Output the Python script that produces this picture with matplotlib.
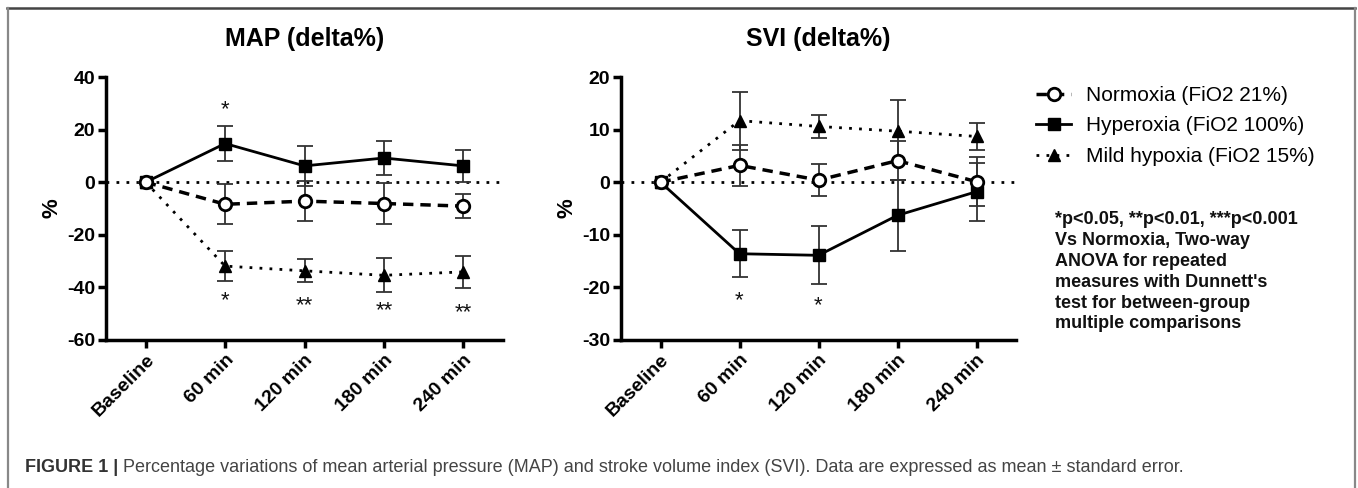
import matplotlib
matplotlib.use('Agg')
import matplotlib.pyplot as plt
from matplotlib.lines import Line2D
import numpy as np

plt.rcParams['font.family'] = ['Liberation Sans', 'DejaVu Sans']
plt.rcParams['axes.unicode_minus'] = False

times = ['Baseline', '60 min', '120 min', '180 min', '240 min']

# MAP (delta%)
map_normoxia = [0, -8.4, -7.2, -8.1, -9.1]
map_normoxia_se = [0, 7.6, 7.5, 7.8, 4.7]
map_hyperoxia = [0, 14.7, 6.2, 9.2, 6.2]
map_hyperoxia_se = [0, 6.5, 7.5, 6.5, 6.2]
map_hypoxia = [0, -31.9, -33.7, -35.4, -34.1]
map_hypoxia_se = [0, 5.8, 4.4, 6.5, 6.0]

# SVI (delta%)
svi_normoxia = [0, 3.2, 0.4, 4.1, 0.1]
svi_normoxia_se = [0, 3.9, 3.0, 3.7, 4.7]
svi_hyperoxia = [0, -13.6, -13.9, -6.3, -1.8]
svi_hyperoxia_se = [0, 4.5, 5.5, 6.7, 5.5]
svi_hypoxia = [0, 11.7, 10.6, 9.7, 8.7]
svi_hypoxia_se = [0, 5.5, 2.2, 5.9, 2.5]

# significance marks: (time index, y, label)
map_stars = [(1, 27.5, '*'), (1, -45.0, '*'), (2, -47.0, '**'), (3, -49.0, '**'), (4, -49.8, '**')]
svi_stars = [(1, -22.5, '*'), (2, -23.4, '*')]

labels = ['Normoxia (FiO2 21%)', 'Hyperoxia (FiO2 100%)', 'Mild hypoxia (FiO2 15%)']

W, H = 1358, 488
fig = plt.figure(figsize=(W / 100, H / 100), dpi=100)


def draw_panel(ax, norm, norm_se, hyper, hyper_se, hypo, hypo_se, stars, title, ylim, yticks):
    x = np.arange(len(times))
    ax.axhline(0, color='black', lw=2, linestyle=(0, (1, 2.6)), zorder=1)
    ebkw = dict(fmt='none', ecolor='#333333', elinewidth=1.3, capsize=6, capthick=1.3, zorder=2)
    ax.errorbar(x, hypo, yerr=hypo_se, **ebkw)
    ax.errorbar(x, hyper, yerr=hyper_se, **ebkw)
    ax.errorbar(x, norm, yerr=norm_se, **ebkw)
    l3, = ax.plot(x, hypo, color='black', lw=2, linestyle=(0, (1, 2.6)), marker='^', ms=8,
                  markerfacecolor='black', markeredgecolor='black', zorder=3)
    l2, = ax.plot(x, hyper, color='black', lw=2, linestyle='-', marker='s', ms=8,
                  markerfacecolor='black', markeredgecolor='black', zorder=4)
    l1, = ax.plot(x, norm, color='black', lw=2.5, linestyle=(0, (3, 2)), marker='o', ms=9,
                  markerfacecolor='white', markeredgecolor='black', markeredgewidth=2, zorder=5)
    for i, y, s in stars:
        ax.text(i, y, s, ha='center', va='center', fontsize=16, color='#111111')
    ax.set_xlim(-0.5, 4.5)
    ax.set_ylim(*ylim)
    ax.set_yticks(yticks)
    ax.set_xticks(x)
    ax.set_xticklabels(times, rotation=45, ha='right', rotation_mode='anchor',
                       fontsize=14, fontweight='bold')
    for lab in ax.get_yticklabels():
        lab.set_fontsize(14)
        lab.set_fontweight('bold')
    ax.spines['top'].set_visible(False)
    ax.spines['right'].set_visible(False)
    ax.spines['left'].set_linewidth(2.5)
    ax.spines['bottom'].set_linewidth(2.5)
    ax.tick_params(axis='both', width=2.5, length=6, direction='out', pad=2)
    ax.set_ylabel('%', fontsize=16, fontweight='bold', labelpad=3)
    ax.set_title(title, fontsize=18, fontweight='bold', pad=22)
    return [l1, l2, l3]


ax1 = fig.add_axes([106 / W, 1 - 340 / H, 397 / W, 263 / H])
ax2 = fig.add_axes([621 / W, 1 - 340 / H, 395 / W, 263 / H])

handles = draw_panel(ax1, map_normoxia, map_normoxia_se, map_hyperoxia, map_hyperoxia_se,
                     map_hypoxia, map_hypoxia_se, map_stars, 'MAP (delta%)',
                     (-60, 40), [-60, -40, -20, 0, 20, 40])
draw_panel(ax2, svi_normoxia, svi_normoxia_se, svi_hyperoxia, svi_hyperoxia_se,
           svi_hypoxia, svi_hypoxia_se, svi_stars, 'SVI (delta%)',
           (-30, 20), [-30, -20, -10, 0, 10, 20])

fig.legend(handles, labels, loc='upper left', bbox_to_anchor=(1036 / W, 1 - 86 / H),
           frameon=False, fontsize=15, handlelength=1.7, handletextpad=0.7,
           labelspacing=0.55, borderpad=0, borderaxespad=0)

fig.text(1055 / W, 1 - 211 / H,
         "*p<0.05, **p<0.01, ***p<0.001\nVs Normoxia, Two-way\nANOVA for repeated\n"
         "measures with Dunnett's\ntest for between-group\nmultiple comparisons",
         ha='left', va='top', fontsize=13, fontweight='bold', linespacing=1.3, color='#111111')

# frame around figure
fig.add_artist(Line2D([7 / W, 1355 / W], [1 - 8 / H, 1 - 8 / H], color='#444444', lw=1.8))
fig.add_artist(Line2D([7.5 / W, 7.5 / W], [0, 1 - 8 / H], color='#888888', lw=1.6))
fig.add_artist(Line2D([1355 / W, 1355 / W], [0, 1 - 8 / H], color='#888888', lw=1.6))

t1 = fig.text(25 / W, 1 - 467 / H, 'FIGURE 1 |', ha='left', va='center', fontsize=13,
              fontweight='bold', color='#333333')
ax1.annotate(' Percentage variations of mean arterial pressure (MAP) and stroke volume index (SVI). '
             'Data are expressed as mean \u00b1 standard error.',
             xy=(1, 0), xycoords=t1, ha='left', va='bottom', fontsize=13, color='#444444',
             annotation_clip=False)

fig.savefig('out.png', dpi=100)
